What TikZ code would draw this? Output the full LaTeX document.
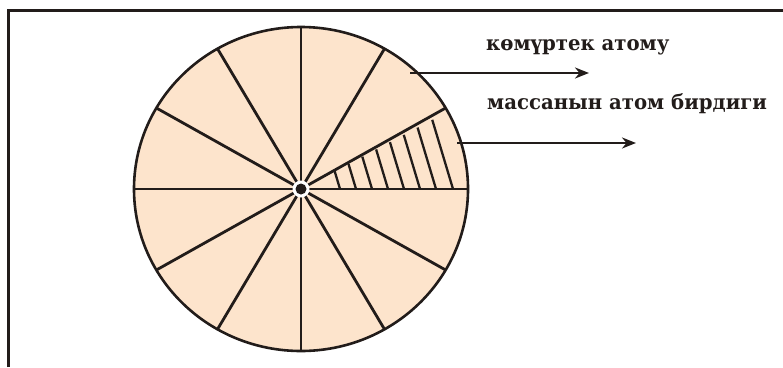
\documentclass[tikz,border=0pt]{standalone}
\usepackage{fontspec}
\setmainfont{DejaVu Serif}
\usetikzlibrary{arrows.meta,calc}
\definecolor{peach}{RGB}{253,228,204}
\definecolor{ink}{RGB}{34,28,26}
\tikzset{
  spoke/.style={draw=ink, line width=2.8pt},
  hatch/.style={draw=ink, line width=2.3pt},
  rim/.style={draw=ink, line width=2.6pt, fill=peach},
  pointer/.style={draw=ink, line width=2.7pt, -{Stealth[length=14pt,width=11pt]}},
  frameline/.style={draw=ink, line width=3pt},
  lbl/.style={font=\bfseries\fontsize{20.5}{24}\selectfont, text=ink, inner sep=0pt, anchor=base west}
}
\begin{document}
\begin{tikzpicture}[x=1pt,y=-1pt]
\useasboundingbox (0,0) rectangle (783,367);
% frame
\draw[frameline] (8.5,367) -- (8.5,10) -- (783,10);
% disc
\coordinate (O) at (301,189);
\draw[rim] (O) ellipse [x radius=167, y radius=162];
% spokes (diameters)
\foreach \a in {0,30,60,90,120,150}{
  \draw[spoke] ($(O)+({167*cos(\a)},{-162*sin(\a)})$) -- ($(O)+({-167*cos(\a)},{162*sin(\a)})$);
}
% hatching in the sector between 0 and 30 degrees
\foreach \xb in {340,356,372,388,404,420,436,453}{
  \pgfmathsetmacro{\h}{0.5773*(\xb-301)/(1+0.3*0.5773)*0.925}
  \draw[hatch] (\xb,189) -- ({\xb-0.3*\h},{189-\h});
}
% centre dot
\fill[white] (O) circle (8.5);
\fill[ink] (O) circle (5.5);
% arrows
\coordinate (a1s) at (410,73);
\coordinate (a1e) at (589,73);
\coordinate (a2s) at (457,143);
\coordinate (a2e) at (636,143);
\draw[pointer] (a1s) -- (a1e);
\draw[pointer] (a2s) -- (a2e);
% labels
\node[lbl] (t1) at (486,50) {\scalebox{0.96}[1]{көмүртек атому}};
\node[lbl] (t2) at (487,109) {\scalebox{0.96}[1]{массанын атом бирдиги}};
\end{tikzpicture}
\end{document}
